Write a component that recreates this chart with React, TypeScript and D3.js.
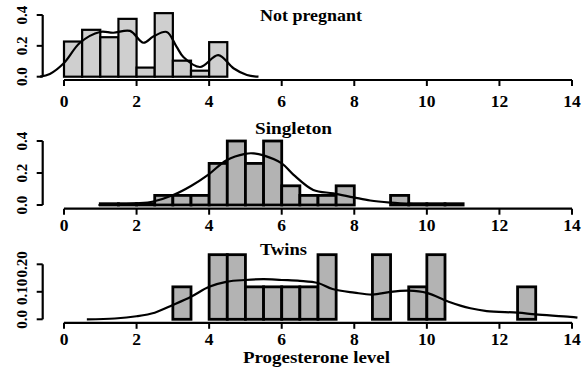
import React from 'react';
import * as d3 from 'd3';

const W = 587;
const H = 371;
const BIN = 0.5;
const xTicks = [0, 2, 4, 6, 8, 10, 12, 14];
const xLabel = 'Progesterone level';

// Not pregnant
const notPregBins = [0, 0.5, 1, 1.5, 2, 2.5, 3, 3.5, 4];
const notPregDens = [0.228, 0.304, 0.256, 0.375, 0.059, 0.412, 0.104, 0.039, 0.224];
const notPregKdeX = [-0.66, -0.39, 0, 0.44, 0.99, 1.36, 1.82, 2.19, 2.46, 2.83, 3.1, 3.29, 3.75, 4.25, 4.67, 5.04, 5.36];
const notPregKdeY = [0, 0.018, 0.089, 0.22, 0.29, 0.285, 0.297, 0.22, 0.26, 0.29, 0.195, 0.128, 0.063, 0.14, 0.055, 0.011, 0];
const notPregYTicks = [0, 0.2, 0.4];
const notPregYLabels = ['0.0', '0.2', '0.4'];

// Singleton
const singleBins = [1, 1.5, 2, 2.5, 3, 3.5, 4, 4.5, 5, 5.5, 6, 6.5, 7, 7.5, 9, 9.5, 10, 10.5];
const singleDens = [0.008, 0.008, 0.008, 0.06, 0.06, 0.06, 0.26, 0.40, 0.26, 0.40, 0.12, 0.06, 0.06, 0.12, 0.06, 0.008, 0.008, 0.008];
const singleKdeX = [0.95, 1.5, 2.0, 2.46, 3.01, 3.5, 3.98, 4.48, 4.99, 5.22, 5.5, 6.0, 6.32, 6.87, 7.42, 7.98, 8.44, 8.99, 9.63, 10.32];
const singleKdeY = [0, 0.004, 0.01, 0.022, 0.0625, 0.119, 0.19, 0.28, 0.32, 0.323, 0.31, 0.26, 0.19, 0.094, 0.073, 0.048, 0.028, 0.015, 0.006, 0];
const singleYTicks = [0, 0.2, 0.4];
const singleYLabels = ['0.0', '0.2', '0.4'];

// Twins
const twinBins = [3, 4, 4.5, 5, 5.5, 6, 6.5, 7, 8.5, 9.5, 10, 12.5];
const twinDens = [0.118, 0.235, 0.235, 0.118, 0.118, 0.118, 0.118, 0.235, 0.235, 0.118, 0.235, 0.118];
const twinKdeX = [0.63, 1.4, 2.0, 2.5, 3.0, 3.5, 4.0, 4.5, 5.0, 5.5, 6.0, 6.5, 7.0, 7.4, 8.0, 8.5, 9.0, 9.5, 10.0, 10.6, 11.2, 11.65, 12.5, 13.0, 13.95, 14.15];
const twinKdeY = [0, 0.003, 0.011, 0.024, 0.052, 0.082, 0.118, 0.137, 0.143, 0.146, 0.143, 0.14, 0.132, 0.11, 0.097, 0.09, 0.1, 0.104, 0.096, 0.064, 0.04, 0.03, 0.024, 0.018, 0.009, 0.006];
const twinYTicks = [0, 0.1, 0.2];
const twinYLabels = ['0.0', '0.10', '0.20'];

const panels = [
  {
    title: 'Not pregnant', bins: notPregBins, dens: notPregDens, kdeX: notPregKdeX, kdeY: notPregKdeY,
    yTicks: notPregYTicks, yLabels: notPregYLabels,
    y0: 76.7, yTop: 15, axisY: 80, labelY: 101, fill: '#cfcfcf', sw: 2.2,
    titleX: 260, titleY: 20.7, titleW: 102,
  },
  {
    title: 'Singleton', bins: singleBins, dens: singleDens, kdeX: singleKdeX, kdeY: singleKdeY,
    yTicks: singleYTicks, yLabels: singleYLabels,
    y0: 205, yTop: 141, axisY: 208.7, labelY: 225, fill: '#b3b3b3', sw: 2.8,
    titleX: 255, titleY: 134, titleW: 77,
  },
  {
    title: 'Twins', bins: twinBins, dens: twinDens, kdeX: twinKdeX, kdeY: twinKdeY,
    yTicks: twinYTicks, yLabels: twinYLabels,
    y0: 319.3, yTop: 264.3, axisY: 322.8, labelY: 338.7, fill: '#b3b3b3', sw: 2.8,
    titleX: 260, titleY: 255, titleW: 47,
  },
];

const font = '"Liberation Serif", "Times New Roman", serif';

const x = d3.scaleLinear().domain([0, 14]).range([64, 572]);

function Panel({ p }: { p: any }) {
  const y = d3.scaleLinear()
    .domain([0, p.yTicks[p.yTicks.length - 1]])
    .range([p.y0, p.yTop]);
  const pts: [number, number][] = p.kdeX.map((v: number, i: number) => [v, p.kdeY[i]]);
  const line = d3.line<[number, number]>()
    .curve(d3.curveCatmullRom.alpha(0.5))
    .x(d => x(d[0]))
    .y(d => y(Math.max(0, d[1])));
  const yAxisX = 42.7;

  return (
    <g>
      {/* bars */}
      {p.bins.map((b: number, i: number) => (
        <rect key={i} x={x(b)} y={y(p.dens[i])} width={x(b + BIN) - x(b)} height={y(0) - y(p.dens[i])}
          fill={p.fill} stroke="#000" strokeWidth={p.sw} />
      ))}
      {/* density curve */}
      <path d={line(pts) || ''} fill="none" stroke="#000" strokeWidth={2.2} />

      {/* x axis */}
      <line x1={x(0)} x2={x(14)} y1={p.axisY} y2={p.axisY} stroke="#000" strokeWidth={2.2} />
      {xTicks.map(t => (
        <g key={t}>
          <line x1={x(t)} x2={x(t)} y1={p.axisY} y2={p.axisY + 6} stroke="#000" strokeWidth={2} />
          <text x={x(t)} y={p.labelY} textAnchor="middle" dominantBaseline="central"
            fontFamily={font} fontWeight="bold" fontSize={17.5}>{t}</text>
        </g>
      ))}

      {/* y axis */}
      <line x1={yAxisX} x2={yAxisX} y1={y(0)} y2={y(p.yTicks[p.yTicks.length - 1])} stroke="#000" strokeWidth={2.2} />
      {p.yTicks.map((t: number, i: number) => (
        <g key={t}>
          <line x1={yAxisX - 6} x2={yAxisX} y1={y(t)} y2={y(t)} stroke="#000" strokeWidth={2} />
          <text transform={`translate(21.5,${y(t)}) rotate(-90)`} textAnchor="middle" dominantBaseline="central"
            fontFamily={font} fontWeight="bold" fontSize={15}>{p.yLabels[i]}</text>
        </g>
      ))}

      {/* title */}
      <text x={p.titleX} y={p.titleY} fontFamily={font} fontWeight="bold" fontSize={17}
        textLength={p.titleW} lengthAdjust="spacingAndGlyphs">{p.title}</text>
    </g>
  );
}

export default function App() {
  return (
    <svg width={W} height={H} style={{ position: 'absolute', left: 0, top: 0, background: '#fff' }}>
      <rect width={W} height={H} fill="#fff" />
      {panels.map((p, i) => <Panel key={i} p={p} />)}
      <text x={243} y={363} fontFamily={font} fontWeight="bold" fontSize={17}
        textLength={147} lengthAdjust="spacingAndGlyphs">{xLabel}</text>
    </svg>
  );
}
